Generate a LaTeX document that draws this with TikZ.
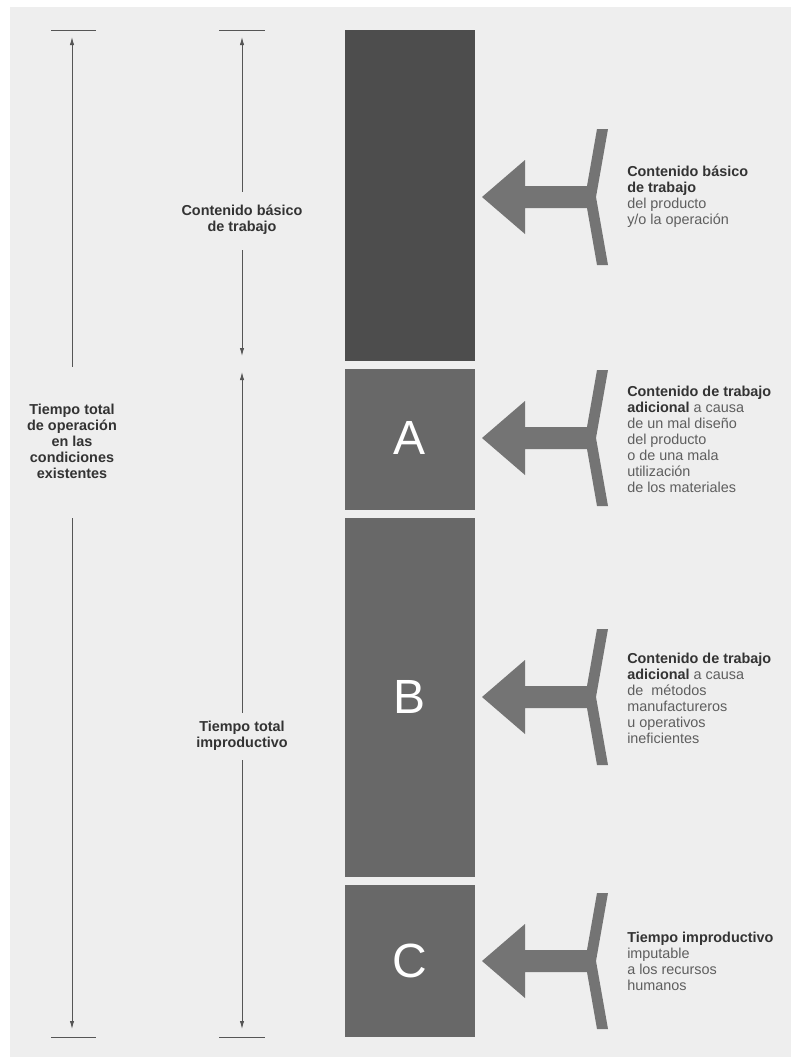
\documentclass[tikz,border=0pt]{standalone}
\usepackage{fontspec}
\setmainfont{Liberation Sans}
\usetikzlibrary{arrows.meta}
\definecolor{paper}{HTML}{EEEEEE}
\definecolor{bardark}{HTML}{4D4D4D}
\definecolor{barmid}{HTML}{686868}
\definecolor{arrowgrey}{HTML}{747474}
\definecolor{linegrey}{HTML}{555555}
\definecolor{inkdark}{HTML}{333333}
\definecolor{inklight}{HTML}{5E5E5E}
\newcommand\bt[1]{{\bfseries\color{inkdark}#1}}
\begin{document}
\begin{tikzpicture}[x=0.75pt,y=-0.75pt,
  dim/.style={draw=linegrey, line width=0.6pt},
  tipend/.style={-{Latex[length=6pt,width=3.2pt]}},
  tipstart/.style={{Latex[length=6pt,width=3.2pt]}-},
  tipboth/.style={{Latex[length=6pt,width=3.2pt]}-{Latex[length=6pt,width=3.2pt]}},
  tick/.style={draw=linegrey, line width=0.7pt},
  sidelabel/.style={align=center, text=inkdark, font=\bfseries\fontsize{10.8}{12}\selectfont, inner sep=0pt},
  note/.style={anchor=west, align=left, text=inklight, font=\fontsize{10.8}{12}\selectfont, inner sep=0pt},
  letter/.style={text=white, font=\fontsize{36}{36}\selectfont, inner sep=0pt},
  forkarrow/.pic={
    \fill[arrowgrey] (482,0) -- (525,-37) -- (525,-11) -- (587,-11) -- (597,-68)
      -- (608,-68) -- (596,0) -- (608,68) -- (597,68) -- (587,11) -- (525,11)
      -- (525,37) -- cycle;
  }]

% page
\fill[white] (0,0) rectangle (791,1057);
\fill[paper] (10,7) rectangle (791,1057);
\useasboundingbox (0,0) rectangle (791,1057);

% stacked bars
\fill[bardark] (345,30) rectangle (475,361);
\fill[barmid] (345,369) rectangle (475,510);
\fill[barmid] (345,518) rectangle (475,877);
\fill[barmid] (345,885) rectangle (475,1037);

\node[letter] (letA) at (410,438) {A};
\node[letter] (letB) at (410,697) {B};
\node[letter] (letC) at (410,961) {C};

% block arrows pointing at the bars
\pic at (0,197) {forkarrow};
\pic at (0,438) {forkarrow};
\pic at (0,697) {forkarrow};
\pic at (0,961) {forkarrow};

% notes to the right
\node[note] (noteBasic) at (627,197) {\bt{Contenido básico}\\ \bt{de trabajo}\\ del producto\\ y/o la operación};
\node[note] (noteA) at (627,439) {\bt{Contenido de trabajo}\\ \bt{adicional} a causa\\ de un mal diseño\\ del producto\\ o de una mala\\ utilización\\ de los materiales};
\node[note] (noteB) at (627,698) {\bt{Contenido de trabajo}\\ \bt{adicional} a causa\\ de~ métodos\\ manufactureros\\ u operativos\\ ineficientes};
\node[note] (noteC) at (627,961) {\bt{Tiempo improductivo}\\ imputable\\ a los recursos\\ humanos};

% end ticks
\draw[tick] (51,30) -- (96,30);
\draw[tick] (51,1037) -- (96,1037);
\draw[tick] (219,30) -- (265,30);
\draw[tick] (219,1037) -- (265,1037);

% left dimension: total operating time
\node[sidelabel] (lblTotal) at (72,441) {Tiempo total\\ de operación\\ en las\\ condiciones\\ existentes};
\coordinate (lTop) at (72,37);
\coordinate (lUp) at (72,367);
\coordinate (lDown) at (72,518);
\coordinate (lBot) at (72,1029);
\draw[dim,tipstart] (lTop) -- (lUp);
\draw[dim,tipend] (lDown) -- (lBot);

% middle dimension: basic work content
\node[sidelabel] (lblBasic) at (242,220) {Contenido básico\\ de trabajo};
\coordinate (mTop) at (242,37);
\coordinate (mA) at (242,192);
\coordinate (mB) at (242,250);
\coordinate (mC) at (242,356);
\draw[dim,tipstart] (mTop) -- (mA);
\draw[dim,tipend] (mB) -- (mC);

% middle dimension: total ineffective time
\node[sidelabel] (lblIneff) at (242,736) {Tiempo total\\ improductivo};
\coordinate (mD) at (242,372);
\coordinate (mE) at (242,713);
\coordinate (mF) at (242,760);
\coordinate (mBot) at (242,1029);
\draw[dim,tipstart] (mD) -- (mE);
\draw[dim,tipend] (mF) -- (mBot);
\end{tikzpicture}
\end{document}
